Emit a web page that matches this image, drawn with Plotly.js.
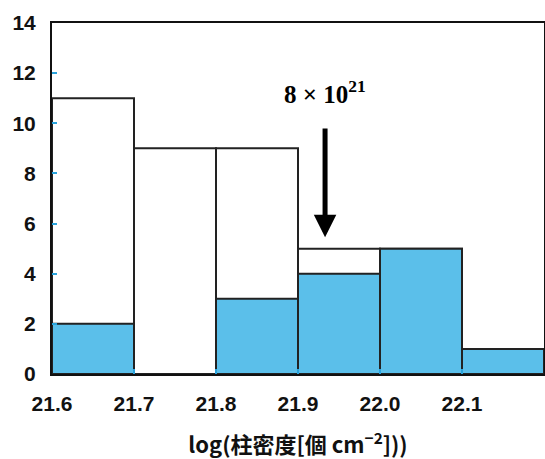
<!DOCTYPE html>
<html>
<head>
<meta charset="utf-8">
<script src="https://cdn.plot.ly/plotly-3.0.1.min.js"></script>
<style>html,body{margin:0;padding:0;background:#fff;}#chart{width:545px;height:459px;}</style>
</head>
<body>
<div id="chart"></div>
<script>
// bin centres of log(column density)
const binCenters = [21.65, 21.75, 21.85, 21.95, 22.05, 22.15];
const totalCounts = [11, 9, 9, 5, 5, 1];
const blueCounts = [2, 0, 3, 4, 5, 1];
const xTickVals = [21.6, 21.7, 21.8, 21.9, 22.0, 22.1];
const xTickText = ['21.6', '21.7', '21.8', '21.9', '22.0', '22.1'];
const yTickVals = [0, 2, 4, 6, 8, 10, 12, 14];
const arrowX = 21.933;
const arrowTipY = 5.45;
const arrowTailY = 9.85;
const labelText = '8 × 10<sup>21</sup>';

const tickFont = {family: 'Liberation Sans, Arial, sans-serif', size: 21, color: '#111', weight: 'bold'};

const traces = [
  {type: 'bar', x: binCenters, y: totalCounts, width: 0.1,
   marker: {color: '#ffffff', line: {color: '#222', width: 2}}, hoverinfo: 'none'},
  {type: 'bar', x: binCenters, y: blueCounts, width: 0.1,
   marker: {color: '#5bbfea', line: {color: '#222', width: 2}}, hoverinfo: 'none'}
];

const layout = {
  width: 545, height: 459,
  margin: {l: 52, r: 1, t: 23, b: 85},
  paper_bgcolor: '#fff', plot_bgcolor: '#fff',
  showlegend: false,
  barmode: 'overlay',
  xaxis: {
    range: [21.6, 22.2], tickvals: xTickVals, ticktext: xTickText,
    ticks: 'inside', ticklen: 5, tickwidth: 2, tickcolor: '#2aa3dc',
    showline: true, linecolor: '#111', linewidth: 2, mirror: true,
    showgrid: false, zeroline: false, tickfont: tickFont, ticklabelstandoff: 10,
    title: {text: 'log(柱密度[個 cm<sup>−2</sup>]))', standoff: 24,
            font: {family: 'Noto Sans CJK JP, Liberation Sans, sans-serif', size: 22, color: '#111', weight: 'bold'}}
  },
  yaxis: {
    range: [0, 14], tickvals: yTickVals,
    ticks: 'inside', ticklen: 5, tickwidth: 2, tickcolor: '#2aa3dc',
    showline: true, linecolor: '#111', linewidth: 2, mirror: true,
    showgrid: false, zeroline: false, tickfont: tickFont, ticklabelstandoff: 10
  },
  annotations: [
    {x: arrowX, y: arrowTipY, ax: arrowX, ay: arrowTailY, axref: 'x', ayref: 'y',
     xref: 'x', yref: 'y', showarrow: true, arrowhead: 2, arrowsize: 0.9, arrowwidth: 5,
     arrowcolor: '#000', text: ''},
    {x: arrowX, y: 11.25, xref: 'x', yref: 'y', showarrow: false, text: labelText,
     font: {family: 'Liberation Serif, Times New Roman, serif', size: 25, color: '#000', weight: 'bold'}}
  ]
};

Plotly.newPlot('chart', traces, layout, {staticPlot: true, displayModeBar: false});
</script>
</body>
</html>
